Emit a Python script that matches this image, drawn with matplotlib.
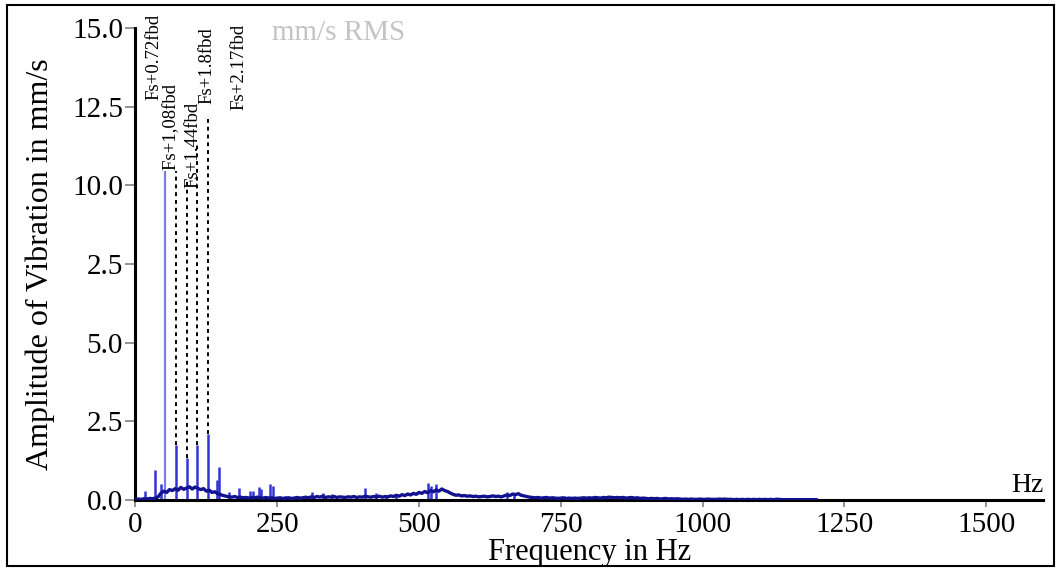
import matplotlib
matplotlib.use("Agg")
import matplotlib.pyplot as plt
from matplotlib.patches import Rectangle

FLOOR_HZ = list(range(0, 1205, 5))
FLOOR_AMP = [
    0.02, 0.03, 0.02, 0.04, 0.03, 0.05, 0.04, 0.06, 0.10, 0.22,   # 0-45
    0.28, 0.24, 0.33, 0.30, 0.36, 0.31, 0.40, 0.34, 0.38, 0.42,   # 50-95
    0.35, 0.41, 0.37, 0.33, 0.36, 0.28, 0.31, 0.24, 0.26, 0.20,   # 100-145
    0.17, 0.14, 0.12, 0.10, 0.09, 0.11, 0.08, 0.09, 0.07, 0.08,   # 150-195
    0.06, 0.08, 0.07, 0.09, 0.07, 0.06, 0.08, 0.06, 0.07, 0.05,   # 200-245
    0.06, 0.07, 0.05, 0.06, 0.07, 0.05, 0.06, 0.08, 0.06, 0.07,   # 250-295
    0.09, 0.07, 0.10, 0.08, 0.11, 0.09, 0.12, 0.08, 0.10, 0.09,   # 300-345
    0.11, 0.08, 0.10, 0.09, 0.08, 0.10, 0.09, 0.11, 0.08, 0.10,   # 350-395
    0.09, 0.12, 0.10, 0.09, 0.11, 0.10, 0.12, 0.09, 0.11, 0.10,   # 400-445
    0.13, 0.11, 0.15, 0.12, 0.17, 0.14, 0.19, 0.16, 0.21, 0.18,   # 450-495
    0.24, 0.21, 0.27, 0.23, 0.30, 0.26, 0.32, 0.28, 0.35, 0.30,   # 500-545
    0.27, 0.22, 0.18, 0.15, 0.16, 0.13, 0.14, 0.12, 0.13, 0.11,   # 550-595
    0.12, 0.10, 0.11, 0.12, 0.10, 0.11, 0.13, 0.11, 0.12, 0.10,   # 600-645
    0.13, 0.16, 0.14, 0.19, 0.17, 0.20, 0.15, 0.13, 0.11, 0.09,   # 650-695
    0.08, 0.07, 0.08, 0.06, 0.07, 0.08, 0.06, 0.07, 0.06, 0.05,   # 700-745
    0.06, 0.07, 0.05, 0.06, 0.05, 0.06, 0.05, 0.06, 0.07, 0.06,   # 750-795
    0.07, 0.06, 0.08, 0.07, 0.06, 0.08, 0.07, 0.09, 0.08, 0.07,   # 800-845
    0.08, 0.07, 0.08, 0.06, 0.07, 0.08, 0.06, 0.07, 0.05, 0.06,   # 850-895
    0.05, 0.04, 0.05, 0.04, 0.05, 0.03, 0.04, 0.05, 0.03, 0.04,   # 900-945
    0.03, 0.04, 0.03, 0.02, 0.03, 0.02, 0.03, 0.02, 0.02, 0.03,   # 950-995
    0.02, 0.02, 0.03, 0.02, 0.02, 0.02, 0.03, 0.02, 0.02, 0.02,   # 1000-1045
    0.02, 0.01, 0.02, 0.01, 0.02, 0.01, 0.02, 0.01, 0.02, 0.01,   # 1050-1095
    0.02, 0.01, 0.02, 0.01, 0.02, 0.01, 0.01, 0.02, 0.01, 0.01,   # 1100-1145
    0.01, 0.01, 0.01, 0.01, 0.01, 0.01, 0.01, 0.01, 0.01, 0.01,   # 1150-1195
    0.01,                                                         # 1200
]

# discrete spectral lines
SPIKE_HZ = [17, 34, 45, 71, 90, 109, 128, 143, 147, 164, 183, 202, 207, 218, 222,
            238, 242, 264, 276, 312, 330, 347, 404, 424, 441, 460, 515, 521, 530,
            655, 668, 840, 950, 1037, 1130]
SPIKE_AMP = [0.30, 0.95, 0.50, 1.75, 1.33, 1.75, 2.10, 0.65, 1.05, 0.25, 0.38, 0.30,
             0.28, 0.40, 0.36, 0.50, 0.45, 0.12, 0.10, 0.25, 0.22, 0.20, 0.38, 0.22,
             0.15, 0.12, 0.55, 0.45, 0.50, 0.25, 0.22, 0.08, 0.06, 0.10, 0.10]

# supply frequency line
FS_HZ = 52
FS_AMP = 13.5

# sideband markers (dashed lines) and their labels
MARK_HZ = [71, 90, 109, 128]
MARK_TOP = [10.7, 10.2, 11.3, 12.2]
LABELS = ["Fs+0.72fbd", "Fs+1,08fbd", "Fs+1.44fbd", "Fs+1.8fbd", "Fs+2.17fbd"]
LABEL_HZ = [33, 64, 102, 126, 183]
LABEL_BASE = [12.7, 10.5, 9.9, 12.6, 12.4]

YTICKS = [0, 2.5, 5, 7.5, 10, 12.5, 15]
YTICK_LABELS = ["0.0", "2.5", "5.0", "2.5", "10.0", "12.5", "15.0"]
XTICKS = [0, 250, 500, 750, 1000, 1250, 1500]

plt.rcParams["font.family"] = ["Liberation Serif", "DejaVu Serif"]

fig = plt.figure(figsize=(10.61, 5.72), dpi=100)
ax = fig.add_axes([0.1277, 0.1259, 0.8553, 0.8251])

ax.plot(FLOOR_HZ, FLOOR_AMP, color="#12128e", lw=2.4, zorder=3)
ax.vlines(SPIKE_HZ, 0, SPIKE_AMP, color="#3434d4", lw=1.8, zorder=2)
ax.vlines([FS_HZ], 0, [FS_AMP], color="#7c7ce6", lw=1.6, zorder=2)
ax.vlines(MARK_HZ, SPIKE_AMP[3:7], MARK_TOP, color="black", lw=1.4,
          linestyles=(0, (2, 2)), zorder=1)

for txt, x, y in zip(LABELS, LABEL_HZ, LABEL_BASE):
    kw = {}
    if txt == "Fs+1,08fbd":
        # label sits on a white box that hides the top of the Fs line
        kw["bbox"] = dict(facecolor="white", edgecolor="none", pad=0.8)
        txt = txt + "  "
    ax.text(x, y, txt, rotation=90, ha="center", va="bottom", fontsize=13.5,
            zorder=5, **kw)

ax.set_xlim(0, 1600)
ax.set_ylim(0, 15)
ax.set_xticks(XTICKS)
ax.set_yticks(YTICKS)
ax.set_yticklabels(YTICK_LABELS)
ax.tick_params(axis="x", labelsize=21, length=5, width=1.2, color="#808080", pad=4)
ax.tick_params(axis="y", labelsize=21, length=7, width=1.2, color="#808080", pad=2)

for s in ("top", "right"):
    ax.spines[s].set_visible(False)
for s in ("left", "bottom"):
    ax.spines[s].set_linewidth(2.2)
    ax.spines[s].set_color("black")

ax.set_xlabel("Frequency in Hz", fontsize=22, labelpad=0)
ax.set_ylabel("Amplitude of Vibration in mm/s", fontsize=23, labelpad=12)
ax.text(1.0, 0.005, "Hz", transform=ax.transAxes, ha="right", va="bottom", fontsize=20)
fig.text(0.319, 0.942, "mm/s RMS", ha="center", va="center", fontsize=21, color="#c4c4c4")

fig.patches.append(Rectangle((0.0066, 0.0105), 0.9868, 0.9807, transform=fig.transFigure,
                             fill=False, edgecolor="black", lw=1.5))

fig.savefig("out.png", dpi=100)
